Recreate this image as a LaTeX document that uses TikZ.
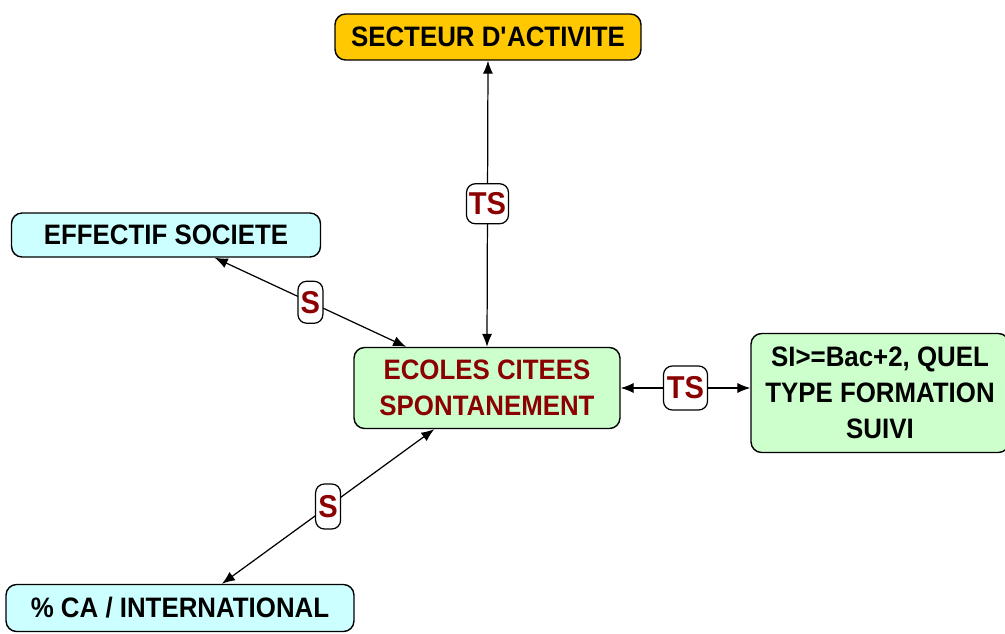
\documentclass[tikz,border=0pt]{standalone}
\usepackage{fontspec}
\setmainfont{Liberation Sans}[FakeStretch=0.92]
\usetikzlibrary{arrows.meta}
\definecolor{gold}{HTML}{FFC800}
\definecolor{paleblue}{HTML}{CCFFFF}
\definecolor{palegreen}{HTML}{CCFFCC}
\definecolor{darkred}{HTML}{8B0000}
\tikzset{
  box/.style={draw, line width=0.8pt, rounded corners=6pt, align=center, inner sep=0pt,
    font=\bfseries\fontsize{16}{20.5}\selectfont},
  rel/.style={draw, line width=0.7pt, fill=white, rounded corners=5pt, inner sep=0pt,
    text=darkred, font=\bfseries\fontsize{18}{20}\selectfont},
  link/.style={line width=0.7pt, {Latex[length=7.4pt,width=5.8pt]}-{Latex[length=7.4pt,width=5.8pt]}}
}
\begin{document}
\begin{tikzpicture}[x=0.02cm,y=-0.02cm]
\useasboundingbox[fill=white] (0,0) rectangle (1005,633);
% the five themes
\node[box, fill=gold, minimum width=6.12cm, minimum height=0.92cm] (sect) at (488,37) {SECTEUR D\textquotesingle ACTIVITE};
\node[box, fill=paleblue, minimum width=6.18cm, minimum height=0.88cm] (eff) at (166,235) {EFFECTIF SOCIETE};
\node[box, fill=palegreen, text=darkred, minimum width=5.32cm, minimum height=1.62cm] (eco) at (487,388) {ECOLES CITEES\\SPONTANEMENT};
\node[box, fill=palegreen, minimum width=5.16cm, minimum height=2.38cm] (form) at (880,393) {SI>=Bac+2, QUEL\\TYPE FORMATION\\SUIVI};
\node[box, fill=paleblue, minimum width=6.96cm, minimum height=0.94cm] (ca) at (180,608) {\% CA / INTERNATIONAL};
% links with their strength
\draw[link] (sect.south) -- node[rel, minimum width=0.84cm, minimum height=0.8cm] (ts1) {TS} (eco.north);
\draw[link] (eff.-25) -- node[rel, minimum width=0.5cm, minimum height=0.84cm] (s1) {S} (eco.153);
\draw[link] (eco.218) -- node[rel, minimum width=0.5cm, minimum height=0.9cm] (s2) {S} (ca.30);
\draw[link] (eco.east) -- node[rel, minimum width=0.88cm, minimum height=0.88cm] (ts2) {TS} (eco.east -| form.west);
\end{tikzpicture}
\end{document}
